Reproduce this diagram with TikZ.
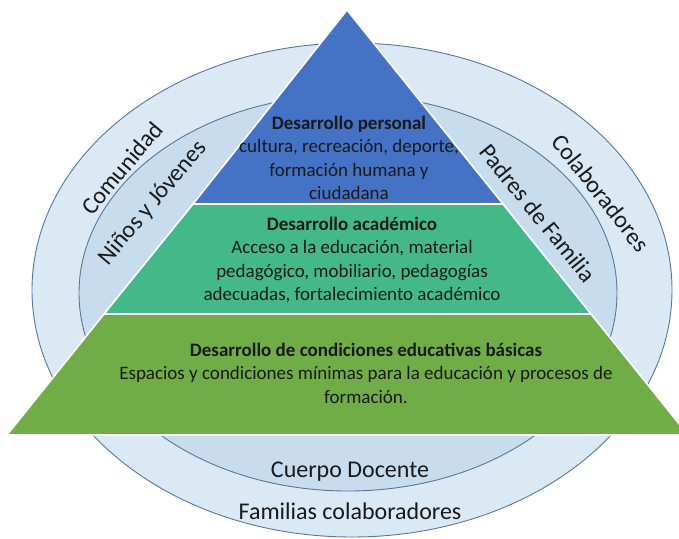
\documentclass[tikz,border=0pt]{standalone}
\usepackage{fontspec}
\setmainfont{Carlito}
\definecolor{outerfill}{HTML}{DAE9F3}
\definecolor{innerfill}{HTML}{C7DDED}
\definecolor{ringline}{HTML}{56779E}
\definecolor{tierblue}{HTML}{4472C4}
\definecolor{tierteal}{HTML}{43B98A}
\definecolor{tiergreen}{HTML}{70AD47}
\definecolor{txt}{HTML}{1A1A1A}
\tikzset{
  ring/.style={draw=ringline, line width=0.9pt},
  tier/.style={draw=white, line width=1.6pt, line join=miter},
  tiertext/.style={align=center, text=txt, inner sep=0pt, font=\fontsize{19}{23.5}\selectfont},
  ringtext/.style={text=txt, inner sep=0pt, font=\fontsize{24}{29}\selectfont}
}
\begin{document}
\begin{tikzpicture}[x=1pt,y=-1pt]
\useasboundingbox (0,0) rectangle (679,538);
\clip (0,0) rectangle (679,538);
% rings
\draw[ring, fill=outerfill] (352,290) ellipse [x radius=320, y radius=247];
\draw[ring, fill=innerfill] (348,293) ellipse [x radius=269, y radius=198];
% pyramid tiers
\draw[tier, fill=tierblue] (347,10) -- (503,204) -- (193,204) -- cycle;
\draw[tier, fill=tierteal] (193,204) -- (503,204) -- (591,314) -- (104,314) -- cycle;
\draw[tier, fill=tiergreen] (104,314) -- (591,314) -- (688,435) -- (7,435) -- cycle;
% pyramid texts
\node[tiertext] (personal) at (349,158) {\textbf{Desarrollo personal}\\cultura, recreación, deporte,\\formación humana y\\ciudadana};
\node[tiertext] (academico) at (352,260) {\textbf{Desarrollo académico}\\Acceso a la educación, material\\pedagógico, mobiliario, pedagogías\\adecuadas, fortalecimiento académico};
\node[tiertext] (basicas) at (366,373) {\textbf{Desarrollo de condiciones educativas básicas}\\Espacios y condiciones mínimas para la educación y procesos de\\formación.};
% ring labels
\node[ringtext, rotate=50] (comunidad) at (122,168) {Comunidad};
\node[ringtext, rotate=50] (ninos) at (153,203) {Niños y Jóvenes};
\node[ringtext, rotate=-52] (colab) at (601,193) {Colaboradores};
\node[ringtext, rotate=-51] (padres) at (538,213) {Padres de Familia};
\node[ringtext] (cuerpo) at (350,472) {Cuerpo Docente};
\node[ringtext] (familias) at (350,511) {Familias colaboradores};
\end{tikzpicture}
\end{document}
